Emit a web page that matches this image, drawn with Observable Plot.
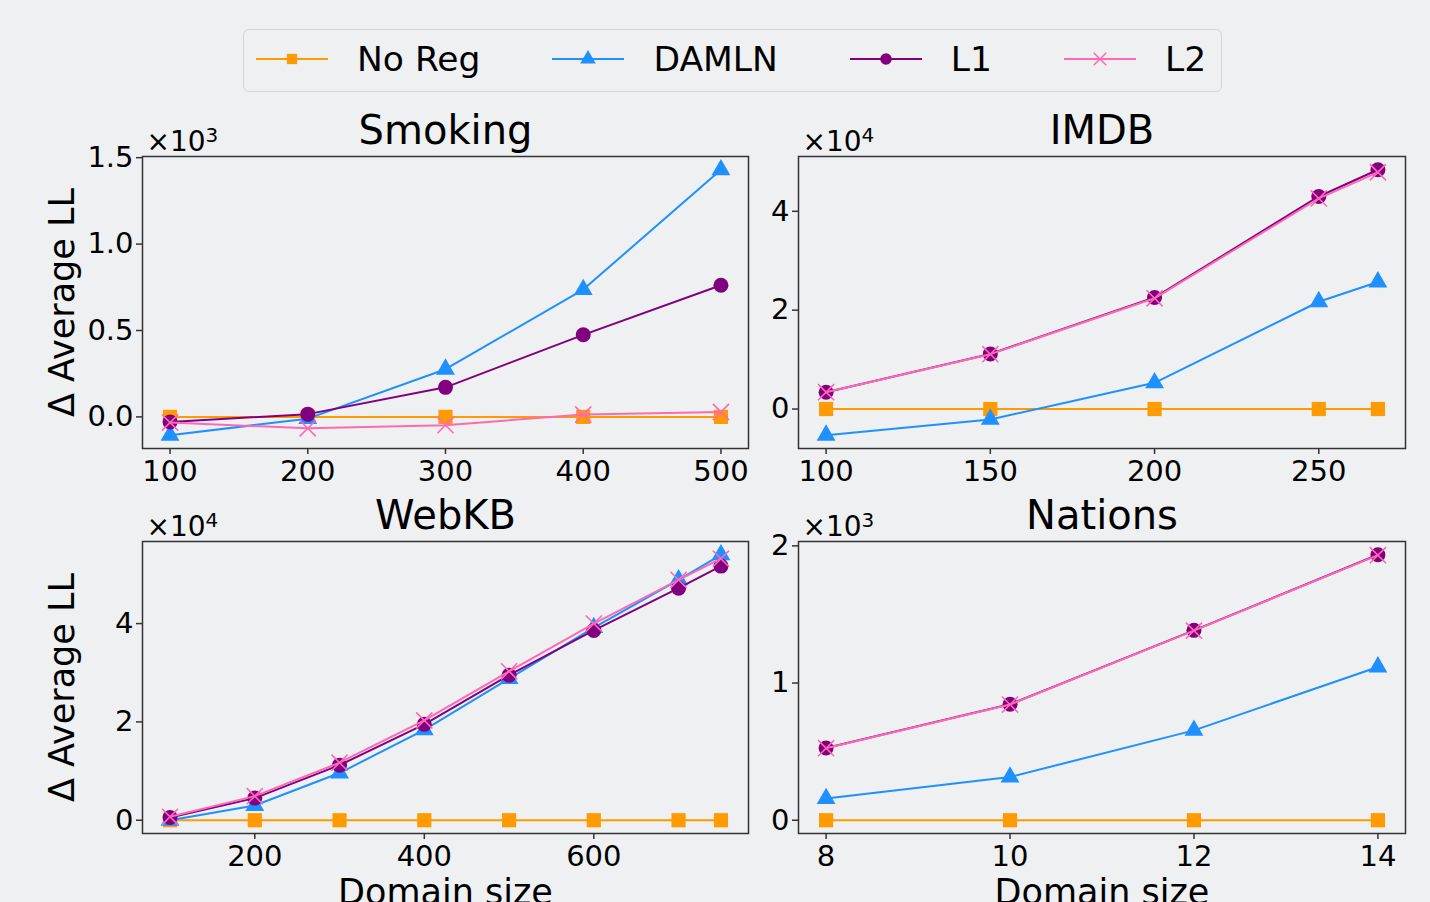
<!DOCTYPE html>
<html><head><meta charset="utf-8">
<script src="https://cdn.jsdelivr.net/npm/d3@7"></script>
<script src="https://cdn.jsdelivr.net/npm/@observablehq/plot@0.6"></script>
<style>
html,body{margin:0;padding:0;background:#eef0f2;}
#root{position:relative;width:1430px;height:902px;overflow:hidden;background:#eef0f2;font-family:"DejaVu Sans",sans-serif;}
.panel{position:absolute;}
#legend{position:absolute;left:243px;top:29px;width:979px;height:63px;box-sizing:border-box;border:1.5px solid #d2d4d7;border-radius:6px;display:flex;align-items:center;padding-left:12px;padding-bottom:3px;white-space:nowrap;}
.item{display:flex;align-items:center;flex:none;}
.item svg{margin-right:29px;overflow:visible;flex:none;}
.item span{font-size:34.5px;margin-right:72px;color:#000;line-height:1;white-space:nowrap;}
</style></head><body><div id="root"><div id="legend"></div></div>
<script>
// Series
const seriesNames = ["No Reg", "DAMLN", "L1", "L2"];
const seriesColors = ["#ff9a00", "#1e90ff", "#800080", "#ff69b4"];
const seriesSymbols = ["square", "triangle", "circle", "times"];
const symbolRadius = [8, 7, 7.5, 7.4];

// Smoking (x10^3)
const smokingX = [100, 200, 300, 400, 500];
const smokingNoReg = [0, 0, 0, 0, 0];
const smokingDAMLN = [-0.106, -0.01, 0.276, 0.737, 1.430];
const smokingL1 = [-0.029, 0.016, 0.171, 0.475, 0.762];
const smokingL2 = [-0.033, -0.066, -0.048, 0.014, 0.029];
const smokingXTicks = [100, 200, 300, 400, 500];
const smokingYTicks = [0, 0.5, 1.0, 1.5];

// IMDB (x10^4)
const imdbX = [100, 150, 200, 250, 268];
const imdbNoReg = [0, 0, 0, 0, 0];
const imdbDAMLN = [-0.53, -0.21, 0.53, 2.17, 2.57];
const imdbL1 = [0.34, 1.115, 2.255, 4.30, 4.84];
const imdbL2 = [0.34, 1.11, 2.24, 4.26, 4.79];
const imdbXTicks = [100, 150, 200, 250];
const imdbYTicks = [0, 2, 4];

// WebKB (x10^4)
const webkbX = [100, 200, 300, 400, 500, 600, 700, 750];
const webkbNoReg = [0, 0, 0, 0, 0, 0, 0, 0];
const webkbDAMLN = [0.0, 0.30, 0.96, 1.84, 2.88, 3.92, 4.89, 5.40];
const webkbL1 = [0.055, 0.45, 1.12, 1.95, 2.95, 3.86, 4.72, 5.17];
const webkbL2 = [0.07, 0.49, 1.17, 2.03, 3.03, 4.00, 4.89, 5.32];
const webkbXTicks = [200, 400, 600];
const webkbYTicks = [0, 2, 4];

// Nations (x10^3)
const nationsX = [8, 10, 12, 14];
const nationsNoReg = [0, 0, 0, 0];
const nationsDAMLN = [0.158, 0.315, 0.655, 1.117];
const nationsL1 = [0.527, 0.845, 1.384, 1.935];
const nationsL2 = [0.525, 0.843, 1.382, 1.932];
const nationsXTicks = [8, 10, 12, 14];
const nationsYTicks = [0, 1, 2];

const panels = [
  {title: "Smoking", pow: "3", x: smokingX, ys: [smokingNoReg, smokingDAMLN, smokingL1, smokingL2], xt: smokingXTicks, yt: smokingYTicks, yf: d3.format(".1f"), left: 0, top: 100, fw: 606, mb: 52, ylab: true, xlab: false},
  {title: "IMDB", pow: "4", x: imdbX, ys: [imdbNoReg, imdbDAMLN, imdbL1, imdbL2], xt: imdbXTicks, yt: imdbYTicks, yf: d3.format("d"), left: 656, top: 100, fw: 607, mb: 52, ylab: false, xlab: false},
  {title: "WebKB", pow: "4", x: webkbX, ys: [webkbNoReg, webkbDAMLN, webkbL1, webkbL2], xt: webkbXTicks, yt: webkbYTicks, yf: d3.format("d"), left: 0, top: 485, fw: 606, mb: 69, ylab: true, xlab: true},
  {title: "Nations", pow: "3", x: nationsX, ys: [nationsNoReg, nationsDAMLN, nationsL1, nationsL2], xt: nationsXTicks, yt: nationsYTicks, yf: d3.format("d"), left: 656, top: 485, fw: 607, mb: 69, ylab: false, xlab: true}
];

function padded(ext) {
  const p = (ext[1] - ext[0]) * 0.05;
  return [ext[0] - p, ext[1] + p];
}

const root = document.getElementById("root");

panels.forEach(p => {
  const ML = 142, MT = 56, FH = 292, MR = 12;
  const marks = [];
  seriesNames.forEach((s, i) => {
    const d = p.x.map((xv, j) => ({series: s, x: xv, y: p.ys[i][j]}));
    marks.push(Plot.line(d, {x: "x", y: "y", stroke: seriesColors[i], strokeWidth: 2}));
    if (seriesSymbols[i] === "times") {
      marks.push(Plot.dot(d, {x: "x", y: "y", symbol: "times", r: symbolRadius[i], stroke: seriesColors[i], strokeWidth: 1.6}));
    } else {
      marks.push(Plot.dot(d, {x: "x", y: "y", symbol: seriesSymbols[i], r: symbolRadius[i], fill: seriesColors[i], stroke: "none"}));
    }
  });
  marks.push(Plot.frame({stroke: "#333", strokeWidth: 1.5}));
  marks.push(Plot.axisX({ticks: p.xt, tickFormat: d3.format("d"), tickSize: 6, tickPadding: 6, fontSize: 29, label: null, stroke: "#333", strokeWidth: 1.5, fill: "#000"}));
  marks.push(Plot.axisY({ticks: p.yt, tickFormat: p.yf, tickSize: 6, tickPadding: 3, fontSize: 29, label: null, stroke: "#333", strokeWidth: 1.5, fill: "#000"}));
  marks.push(Plot.text([p.title], {text: d => d, frameAnchor: "top", dy: -13, lineAnchor: "bottom", fontSize: 40, fill: "#000"}));
  marks.push(Plot.text(["×10"], {text: d => d, frameAnchor: "top-left", textAnchor: "start", dx: 4, dy: -6, lineAnchor: "bottom", fontSize: 28, fill: "#000"}));
  if (p.ylab) marks.push(Plot.text(["Δ Average LL"], {text: d => d, frameAnchor: "left", rotate: -90, dx: -80, lineAnchor: "middle", textAnchor: "middle", fontSize: 35, fill: "#000"}));
  if (p.xlab) marks.push(Plot.text(["Domain size"], {text: d => d, frameAnchor: "bottom", dy: 70, lineAnchor: "bottom", fontSize: 35, fill: "#000"}));

  const allY = p.ys.flat();
  const chart = Plot.plot({
    width: ML + p.fw + MR,
    height: MT + FH + p.mb,
    marginLeft: ML, marginRight: MR, marginTop: MT, marginBottom: p.mb,
    x: {type: "linear", domain: padded(d3.extent(p.x))},
    y: {type: "linear", domain: padded(d3.extent(allY))},
    style: {background: "transparent", fontFamily: "DejaVu Sans, sans-serif", fontSize: "28px", overflow: "visible", color: "#000"},
    marks
  });
  // superscript exponent on the offset text
  d3.select(chart).selectAll("text").filter(function() { return this.textContent === "×10"; })
    .append("tspan").attr("dy", "-0.45em").attr("font-size", "20px").text(p.pow);
  const div = document.createElement("div");
  div.className = "panel";
  div.style.left = p.left + "px";
  div.style.top = p.top + "px";
  div.appendChild(chart);
  root.appendChild(div);
});

// Legend
const legend = d3.select("#legend");
seriesNames.forEach((s, i) => {
  const item = legend.append("div").attr("class", "item");
  const svg = item.append("svg").attr("width", 72).attr("height", 24);
  svg.append("line").attr("x1", 0).attr("x2", 72).attr("y1", 12).attr("y2", 12)
    .attr("stroke", seriesColors[i]).attr("stroke-width", 2);
  const sym = {square: d3.symbolSquare, triangle: d3.symbolTriangle, circle: d3.symbolCircle, times: d3.symbolTimes}[seriesSymbols[i]];
  const path = svg.append("path").attr("transform", "translate(36,12)")
    .attr("d", d3.symbol(sym, Math.PI * 5.8 * 5.8)());
  if (seriesSymbols[i] === "times") path.attr("fill", "none").attr("stroke", seriesColors[i]).attr("stroke-width", 1.5);
  else path.attr("fill", seriesColors[i]);
  item.append("span").text(s);
});
</script></body></html>
